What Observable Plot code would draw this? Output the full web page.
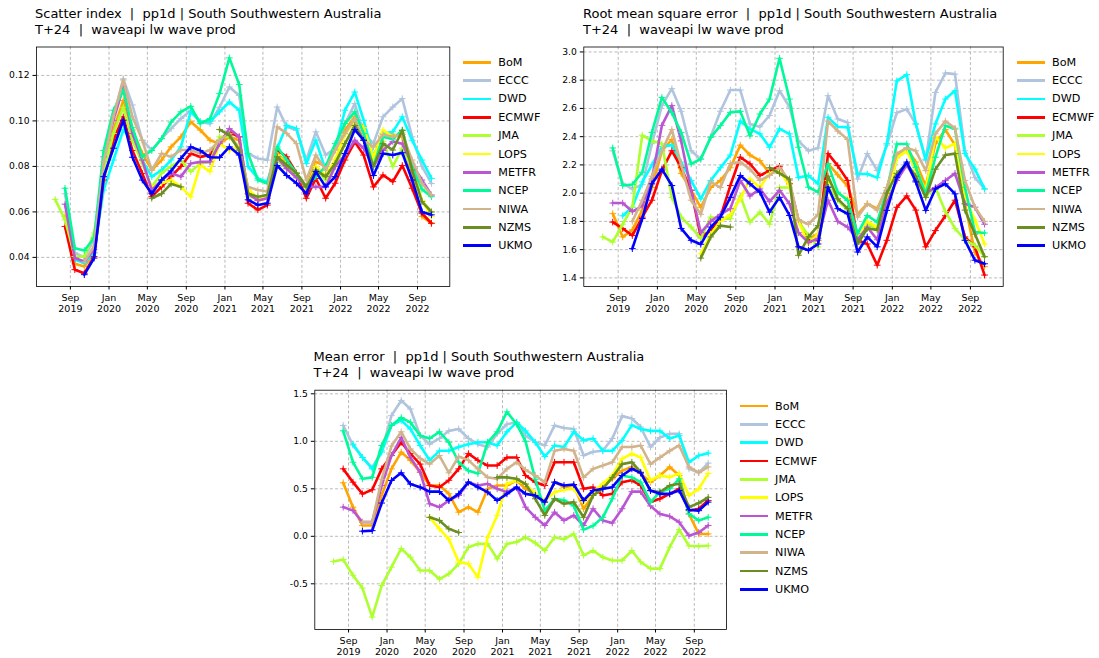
<!DOCTYPE html>
<html><head><meta charset="utf-8">
<script src="https://cdn.jsdelivr.net/npm/d3@7"></script>
<script src="https://cdn.jsdelivr.net/npm/@observablehq/plot@0.6"></script>
<style>
body{margin:0;background:#fff;font-family:"DejaVu Sans",sans-serif;}
#root{position:relative;width:1099px;height:658px;overflow:hidden;background:#fff;}
.title{position:absolute;font-size:13px;line-height:15.5px;color:#000;white-space:pre;}
.legend{position:absolute;font-size:11.2px;color:#000;}
.legend .row{position:absolute;left:0;height:18px;display:flex;align-items:center;white-space:nowrap;}
.legend .sw{width:28px;height:2.7px;margin-right:7.6px;}
.plot{position:absolute;}
</style></head><body><div id="root"></div>
<script>
// ---------------- data ----------------
const seriesNames = ["BoM","ECCC","DWD","ECMWF","JMA","LOPS","METFR","NCEP","NIWA","NZMS","UKMO"];
const seriesColors = ["#FFA500","#B0C4DE","#00FFFF","#FF0000","#ADFF2F","#FFFF00","#BA55D3","#00FA9A","#D2B48C","#6B8E23","#0000FF"];
// monthly values, Jul 2019 .. Oct 2022 (40 months)
const firstMonth = [2019, 6];
const monthCount = 40;
const xTickLabels = ["Sep\n2019","Jan\n2020","May\n2020","Sep\n2020","Jan\n2021","May\n2021","Sep\n2021","Jan\n2022","May\n2022","Sep\n2022"];
const xTickMonths = [[2019,8],[2020,0],[2020,4],[2020,8],[2021,0],[2021,4],[2021,8],[2022,0],[2022,4],[2022,8]];

const _ = null;
// Scatter index
const siBoM = [_,0.058,0.0372,0.036,0.042,0.0784,0.096,0.109,0.096,0.0857,
 0.0784,0.0828,0.0886,0.093,0.0996,0.096,0.0915,0.090,0.093,0.0915,
 0.0696,0.065,0.066,0.0857,0.0813,0.077,0.071,0.082,0.080,0.0872,
 0.096,0.1018,0.0974,0.0842,0.0945,0.094,0.093,0.0755,0.058,0.055];
const siECCC = [_,0.068,0.042,0.040,0.048,0.080,0.1018,0.1185,0.107,0.0915,
 0.0872,0.0922,0.0966,0.101,0.1047,0.0996,0.0988,0.106,0.1149,0.1112,
 0.0857,0.0835,0.0828,0.1061,0.0974,0.0959,0.0828,0.0952,0.085,0.088,
 0.0988,0.1076,0.0945,0.0901,0.1018,0.1061,0.1098,0.093,0.080,0.0725];
const siDWD = [_,_,0.039,0.0375,0.042,0.0696,0.0828,0.096,0.0915,0.0828,
 0.0755,0.0784,0.0828,0.0886,0.104,0.0997,0.0997,0.104,0.1083,0.1047,
 0.080,0.0747,0.0733,0.088,0.098,0.0966,0.0813,0.0915,0.0784,0.088,
 0.1047,0.1127,0.1003,0.0842,0.0945,0.0952,0.1018,0.0915,0.0828,0.0747];
const siECMWF = [_,0.0536,0.0346,0.033,0.0404,0.074,0.0915,0.1018,0.087,0.0769,
 0.0667,0.071,0.0755,0.080,0.0857,0.0842,0.085,0.0915,0.095,0.093,
 0.0638,0.0609,0.063,0.0872,0.0842,0.077,0.066,0.0747,0.066,0.0726,
 0.0828,0.0908,0.085,0.071,0.0762,0.0733,0.0804,0.0704,0.0594,0.055];
const siJMA = [0.0655,0.0565,0.0404,0.0404,0.0507,0.077,0.0945,0.106,0.0915,0.0813,
 0.071,0.077,0.080,0.0828,0.0777,0.0813,0.082,0.093,0.093,0.0886,
 0.0667,0.066,0.067,0.0828,0.079,0.076,0.071,0.079,0.074,0.080,
 0.090,0.097,0.092,0.082,0.091,0.080,0.088,0.079,0.065,0.060];
const siLOPS = [_,_,_,_,_,_,_,_,_,_,
 0.071,0.0726,0.074,0.071,0.0667,0.0806,0.0777,0.090,0.087,0.089,
 0.070,0.066,0.067,0.085,0.081,0.077,0.070,0.080,0.076,0.083,
 0.094,0.100,0.097,0.084,0.096,0.093,0.095,0.080,0.065,0.058];
const siMETFR = [_,0.0634,0.0397,0.0382,0.0434,0.0842,0.1003,0.1149,0.0945,0.0828,
 0.0696,0.074,0.077,0.0755,0.0813,0.082,0.082,0.090,0.0966,0.093,
 0.068,0.065,0.066,0.084,0.079,0.075,0.071,0.071,0.071,0.080,
 0.085,0.0915,0.088,0.080,0.087,0.091,0.090,0.081,0.074,0.0674];
const siNCEP = [_,0.0704,0.044,0.043,0.0485,0.087,0.1047,0.1134,0.097,0.0842,
 0.087,0.0922,0.0995,0.104,0.1064,0.0988,0.101,0.112,0.1277,0.116,
 0.0857,0.074,0.0725,0.0886,0.0828,0.077,0.071,0.0755,0.080,0.090,
 0.0988,0.104,0.0945,0.080,0.093,0.092,0.096,0.080,0.070,0.0667];
const siNIWA = [_,_,_,0.038,0.045,0.082,0.102,0.118,0.1018,0.0915,
 0.0784,0.0857,0.0842,0.0872,0.0872,0.0857,0.0872,0.0915,0.0945,0.0872,
 0.071,0.0696,0.069,0.0974,0.0945,0.090,0.074,0.085,0.0784,0.0872,
 0.0945,0.101,0.0915,0.0886,0.094,0.093,0.094,0.0828,0.0726,0.0674];
const siNZMS = [_,_,_,_,_,_,_,_,_,_,
 0.066,0.068,0.0723,0.071,_,_,_,0.0962,0.0937,0.0872,
 0.068,0.0667,0.0674,0.0842,0.0806,0.077,0.071,0.0784,0.0755,0.0813,
 0.090,0.098,0.0915,0.080,0.090,0.0872,0.0958,0.0784,0.0645,0.060];
const siUKMO = [_,_,_,0.0324,0.0397,0.0755,0.088,0.1003,0.084,0.074,
 0.068,0.074,0.078,0.0835,0.0886,0.087,0.084,0.0839,0.0886,0.085,
 0.0653,0.063,0.0638,0.0804,0.076,0.0726,0.068,0.0777,0.071,0.0755,
 0.0857,0.0962,0.0915,0.076,0.0857,0.085,0.086,0.074,0.060,0.0587];

// Root mean square error
const rmBoM = [_,1.855,1.69,1.74,1.88,2.04,2.30,2.38,2.14,2.02,
 1.90,2.04,2.09,2.18,2.34,2.27,2.23,2.14,2.16,2.07,
 1.80,1.68,1.71,2.21,2.13,2.05,1.85,1.925,1.89,2.04,
 2.27,2.32,2.22,2.05,2.35,2.45,2.34,1.925,1.58,1.48];
const rmECCC = [_,2.30,2.07,2.03,2.06,2.35,2.62,2.74,2.58,2.30,
 2.24,2.40,2.58,2.73,2.73,2.49,2.47,2.55,2.725,2.61,
 2.37,2.30,2.32,2.69,2.525,2.50,2.10,2.28,2.16,2.34,
 2.57,2.595,2.49,2.23,2.713,2.85,2.843,2.30,2.11,2.03];
const rmDWD = [_,_,1.84,1.90,2.08,2.20,2.33,2.34,2.22,2.09,
 1.96,2.09,2.18,2.27,2.51,2.455,2.42,2.325,2.455,2.42,
 2.11,2.125,2.066,2.537,2.47,2.466,2.136,2.136,2.11,2.35,
 2.795,2.84,2.49,2.24,2.49,2.666,2.725,2.28,2.17,2.03];
const rmECMWF = [_,1.795,1.75,1.70,1.83,1.95,2.16,2.30,2.18,2.02,
 1.69,1.735,1.83,2.054,2.254,2.207,2.125,2.16,2.19,2.066,
 1.81,1.666,1.666,2.28,2.195,2.09,1.666,1.64,1.49,1.666,
 1.90,1.98,1.88,1.62,1.735,1.84,1.95,1.69,1.62,1.42];
const rmJMA = [1.69,1.654,1.78,1.90,2.41,2.37,2.35,1.97,1.83,1.76,
 1.68,1.83,1.82,1.82,1.98,1.795,1.866,1.78,2.04,2.04,
 1.80,1.70,1.62,2.05,1.95,1.88,1.66,1.78,1.75,1.92,
 2.25,2.30,2.20,1.98,2.04,1.87,1.75,1.67,1.63,1.55];
const rmLOPS = [_,_,_,_,_,_,_,_,_,_,
 1.57,1.71,1.80,1.85,1.96,2.10,2.04,2.14,2.16,2.05,
 1.80,1.64,1.71,2.09,2.00,1.96,1.67,1.80,1.76,1.97,
 2.25,2.30,2.16,2.02,2.40,2.32,2.35,1.97,1.81,1.64];
const rmMETFR = [_,1.93,1.93,1.87,1.91,2.10,2.48,2.62,2.37,2.02,
 1.72,1.80,1.85,1.89,2.09,1.98,2.03,1.94,2.02,1.925,
 1.72,1.65,1.68,1.95,1.80,1.76,1.67,1.76,1.67,1.93,
 2.09,2.20,2.09,2.00,2.04,2.09,2.14,1.925,1.90,1.78];
const rmNCEP = [_,2.32,2.054,2.061,2.148,2.43,2.678,2.57,2.43,2.207,
 2.242,2.395,2.478,2.572,2.579,2.407,2.56,2.666,2.955,2.666,
 2.325,2.042,2.007,2.207,2.007,1.948,1.713,1.842,1.795,2.019,
 2.348,2.348,2.183,1.995,2.254,2.478,2.454,2.042,1.725,1.718];
const rmNIWA = [_,_,_,1.80,1.95,2.12,2.30,2.45,2.20,1.95,
 1.85,2.08,2.04,2.21,2.22,2.17,2.09,2.125,2.18,2.09,
 1.81,1.78,1.85,2.51,2.44,2.38,1.83,1.925,1.88,2.04,
 2.28,2.32,2.30,2.16,2.42,2.51,2.46,2.09,1.90,1.80];
const rmNZMS = [_,_,_,_,_,_,_,_,_,_,
 1.54,1.69,1.77,1.76,_,_,_,2.18,2.14,2.10,
 1.56,1.69,1.77,2.12,1.96,1.89,1.64,1.75,1.74,2.00,
 2.14,2.21,2.12,1.97,2.17,2.27,2.28,1.88,1.71,1.55];
const rmUKMO = [_,_,_,1.607,1.82,2.066,2.17,2.054,1.75,1.666,
 1.638,1.76,1.83,1.97,2.125,2.066,2.007,1.866,1.97,1.842,
 1.62,1.595,1.64,2.042,1.89,1.854,1.583,1.69,1.62,1.878,
 2.113,2.22,2.08,1.878,2.03,2.066,1.995,1.666,1.525,1.50];

// Mean error
const meBoM = [_,0.563,0.307,0.114,0.114,0.43,0.71,0.886,0.80,0.675,
 0.535,0.535,0.447,0.254,0.307,0.254,0.50,0.535,0.535,0.588,
 0.50,0.45,0.36,0.57,0.517,0.535,0.29,0.43,0.535,0.605,
 0.69,0.73,0.66,0.57,0.64,0.73,0.64,0.235,0.025,0.025];
const meECCC = [_,1.167,0.96,0.83,0.72,0.90,1.27,1.43,1.34,1.06,
 0.97,1.03,1.11,1.13,1.03,0.97,0.94,1.08,1.18,1.20,
 1.06,0.99,0.956,1.167,1.14,1.13,0.85,0.89,0.90,1.03,
 1.265,1.24,1.15,0.94,1.04,1.08,1.08,0.71,0.67,0.77];
const meDWD = [_,_,0.97,0.83,0.71,0.886,1.167,1.22,1.13,0.956,
 0.80,0.90,0.90,0.94,0.97,0.99,0.99,0.956,1.10,1.20,
 1.11,0.99,0.84,0.956,0.94,1.10,1.01,1.03,0.90,0.90,
 1.01,1.17,1.13,1.11,1.11,1.03,1.06,0.78,0.85,0.875];
const meECMWF = [_,0.71,0.57,0.447,0.49,0.71,0.85,0.99,0.87,0.76,
 0.535,0.517,0.59,0.71,0.87,0.80,0.745,0.745,0.83,0.83,
 0.64,0.57,0.535,0.78,0.78,0.78,0.50,0.517,0.43,0.447,
 0.57,0.59,0.535,0.36,0.395,0.447,0.50,0.27,0.29,0.377];
const meJMA = [-0.265,-0.244,-0.41,-0.545,-0.85,-0.518,-0.325,-0.13,-0.22,-0.36,
 -0.36,-0.45,-0.395,-0.29,-0.114,-0.08,-0.08,-0.237,-0.08,-0.06,
 -0.01,-0.07,-0.15,-0.01,-0.03,0.025,-0.20,-0.15,-0.22,-0.255,
 -0.255,-0.15,-0.27,-0.34,-0.34,-0.114,0.07,-0.10,-0.105,-0.10];
const meLOPS = [_,_,_,_,_,_,_,_,_,_,
 0.20,0.078,-0.03,-0.27,-0.29,-0.43,-0.01,0.22,0.553,0.588,
 0.55,0.45,0.377,0.465,0.49,0.50,0.36,0.465,0.553,0.64,
 0.816,0.87,0.83,0.588,0.64,0.623,0.66,0.43,0.50,0.66];
const meMETFR = [_,0.307,0.272,0.149,0.149,0.535,0.85,1.04,0.83,0.675,
 0.342,0.307,0.377,0.43,0.57,0.535,0.553,0.50,0.465,0.517,
 0.307,0.20,0.114,0.254,0.167,0.22,0.114,0.29,0.167,0.14,
 0.29,0.47,0.47,0.32,0.235,0.21,0.149,0.007,0.04,0.114];
const meNCEP = [_,1.11,0.78,0.605,0.62,0.956,1.167,1.25,1.20,1.06,
 1.03,1.10,0.99,0.78,0.69,0.66,0.99,1.10,1.31,1.18,
 1.00,0.60,0.27,0.395,0.38,0.32,0.07,0.11,0.20,0.395,
 0.64,0.62,0.57,0.36,0.465,0.50,0.605,0.235,0.167,0.20];
const meNIWA = [_,_,_,0.15,0.15,0.60,0.95,1.10,0.92,0.82,
 0.76,0.85,0.668,0.84,0.80,0.71,0.62,0.605,0.71,0.78,
 0.70,0.64,0.57,0.90,0.92,0.90,0.62,0.71,0.745,0.78,
 0.94,0.94,0.956,0.76,0.83,0.90,0.956,0.73,0.67,0.73];
const meNZMS = [_,_,_,_,_,_,_,_,_,_,
 0.20,0.167,0.078,0.04,_,_,_,0.62,0.62,0.605,
 0.55,0.395,0.22,0.395,0.342,0.36,0.20,0.43,0.50,0.62,
 0.76,0.78,0.675,0.48,0.465,0.535,0.553,0.307,0.35,0.41];
const meUKMO = [_,_,_,0.054,0.06,0.35,0.588,0.668,0.55,0.517,
 0.47,0.47,0.377,0.447,0.57,0.517,0.465,0.377,0.447,0.517,
 0.447,0.43,0.36,0.57,0.535,0.545,0.377,0.482,0.50,0.517,
 0.64,0.71,0.668,0.482,0.447,0.447,0.482,0.28,0.27,0.36];

const siTicks = [0.04,0.06,0.08,0.10,0.12];
const rmTicks = [1.4,1.6,1.8,2.0,2.2,2.4,2.6,2.8,3.0];
const meTicks = [-0.5,0.0,0.5,1.0,1.5];

// ---------------- drawing ----------------
const root = document.getElementById("root");
const monthDates = d3.range(monthCount).map(i => new Date(Date.UTC(firstMonth[0], firstMonth[1] + i, 15)));
const xTickDates = xTickMonths.map(([y,m]) => new Date(Date.UTC(y, m, 1)));
const xLabelMap = new Map(xTickDates.map((d,i) => [+d, xTickLabels[i]]));
const xDomain = [new Date(Date.UTC(2019,4,17)), new Date(Date.UTC(2022,11,12))];

function drawPanel(cfg) {
  const grid = {stroke:"#a8a8a8", strokeOpacity:1, strokeWidth:0.8, strokeDasharray:"3,2.2"};
  const marks = [Plot.gridX(xTickDates, grid), Plot.gridY(cfg.yTicks, grid)];
  seriesNames.forEach((name, k) => {
    const vals = cfg.values[k];
    const data = monthDates.map((d, i) => ({date: d, v: vals[i] == null ? NaN : vals[i]}));
    marks.push(Plot.line(data, {x:"date", y:"v", stroke: seriesColors[k], strokeWidth: 2.6, strokeLinejoin:"round"}));
    marks.push(Plot.dot(data.filter(d => !isNaN(d.v)), {x:"date", y:"v", symbol:"plus", r:2.3, stroke: seriesColors[k], strokeWidth:1}));
  });
  marks.push(Plot.frame({stroke:"#000", strokeWidth:0.8}));
  marks.push(Plot.axisX(xTickDates, {label: null, tickFormat: d => xLabelMap.get(+d), tickSize:3.5, tickPadding:3, fontSize:9.5, lineHeight:1.17}));
  marks.push(Plot.axisY(cfg.yTicks, {label: null, tickFormat: cfg.yFmt, tickSize:3.5, tickPadding:3.5, fontSize:9.2}));
  const svg = Plot.plot({
    width: cfg.width, height: cfg.height,
    marginLeft: cfg.mL, marginRight: cfg.mR, marginTop: cfg.mT, marginBottom: cfg.mB,
    x: {type:"utc", domain: xDomain, label: null},
    y: {domain: cfg.yDomain, label: null},
    style: {fontFamily:"DejaVu Sans", color:"#000", background:"transparent", overflow:"visible"},
    marks
  });
  svg.classList.add("plot");
  svg.style.left = cfg.left + "px";
  svg.style.top = cfg.top + "px";
  root.appendChild(svg);

  const t = document.createElement("div");
  t.className = "title";
  t.style.left = cfg.titleX + "px";
  t.style.top = cfg.titleY + "px";
  t.textContent = cfg.title;
  root.appendChild(t);

  const lg = document.createElement("div");
  lg.className = "legend";
  lg.style.left = cfg.legX + "px";
  lg.style.top = cfg.legY + "px";
  seriesNames.forEach((name, k) => {
    const row = document.createElement("div");
    row.className = "row";
    row.style.top = (k * 18.35 - 9) + "px";
    const sw = document.createElement("span");
    sw.className = "sw";
    sw.style.background = seriesColors[k];
    const tx = document.createElement("span");
    tx.textContent = name;
    row.appendChild(sw); row.appendChild(tx);
    lg.appendChild(row);
  });
  root.appendChild(lg);
}

drawPanel({
  values: [siBoM, siECCC, siDWD, siECMWF, siJMA, siLOPS, siMETFR, siNCEP, siNIWA, siNZMS, siUKMO],
  yDomain: [0.0272, 0.1325], yTicks: siTicks, yFmt: d => d.toFixed(2),
  left: 0, top: 0, width: 455, height: 320, mL: 36, mR: 5.7, mT: 46.5, mB: 34,
  title: "Scatter index  |  pp1d | South Southwestern Australia\nT+24  |  waveapi lw wave prod",
  titleX: 35, titleY: 6, legX: 462.7, legY: 62.3
});
drawPanel({
  values: [rmBoM, rmECCC, rmDWD, rmECMWF, rmJMA, rmLOPS, rmMETFR, rmNCEP, rmNIWA, rmNZMS, rmUKMO],
  yDomain: [1.339, 3.035], yTicks: rmTicks, yFmt: d => d.toFixed(1),
  left: 540, top: 0, width: 470, height: 320, mL: 43.3, mR: 7.3, mT: 46.5, mB: 34,
  title: "Root mean square error  |  pp1d | South Southwestern Australia\nT+24  |  waveapi lw wave prod",
  titleX: 583, titleY: 6, legX: 1016.5, legY: 62.3
});
drawPanel({
  values: [meBoM, meECCC, meDWD, meECMWF, meJMA, meLOPS, meMETFR, meNCEP, meNIWA, meNZMS, meUKMO],
  yDomain: [-0.981, 1.538], yTicks: meTicks, yFmt: d => d.toFixed(1),
  left: 270, top: 345, width: 460, height: 313, mL: 44.3, mR: 4, mT: 44.7, mB: 29,
  title: "Mean error  |  pp1d | South Southwestern Australia\nT+24  |  waveapi lw wave prod",
  titleX: 313.5, titleY: 349, legX: 739.5, legY: 406
});
</script></body></html>
